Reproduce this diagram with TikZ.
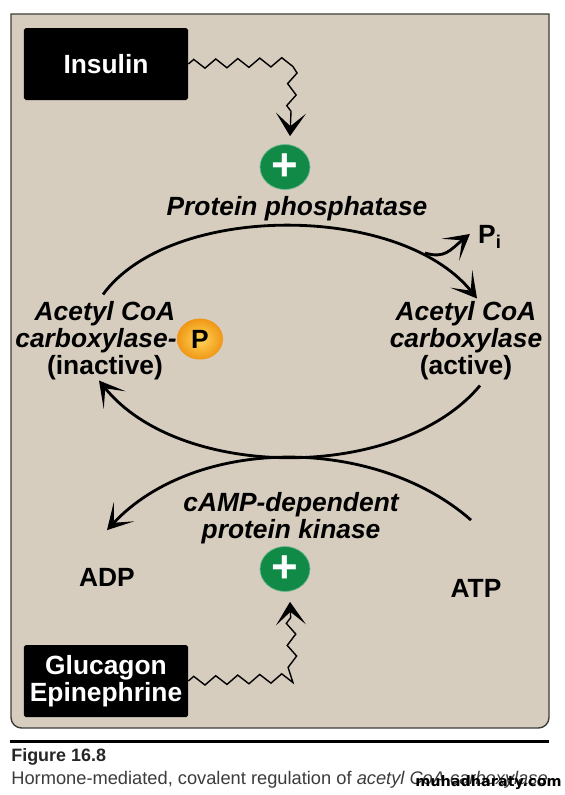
\documentclass[tikz,border=0pt]{standalone}
\usepackage{fontspec}
\setmainfont{Liberation Sans}
\newfontfamily\stampfont{DejaVu Sans}
\definecolor{panelTan}{RGB}{214,205,191}
\definecolor{frameGray}{RGB}{60,62,56}
\definecolor{plusGreen}{RGB}{16,138,70}
\definecolor{ballOrange}{RGB}{240,150,20}
\definecolor{ballYellow}{RGB}{255,215,90}
\definecolor{captionGray}{RGB}{60,60,60}
\usetikzlibrary{shapes.geometric,arrows.meta,decorations.pathmorphing}

\begin{document}
\begin{tikzpicture}[
    every node/.style={font=\fontsize{15}{15.3}\selectfont\bfseries, align=center, inner sep=0pt},
    hormone/.style={fill=black, text=white, rounded corners=1pt,
      minimum width=3.28cm, minimum height=1.44cm},
    enzyme/.style={font=\fontsize{15}{15.3}\selectfont\bfseries\itshape},
    plussign/.style={ellipse, fill=plusGreen, draw=plusGreen!60!white, text=white,
      minimum width=1.0cm, minimum height=0.9cm, font=\fontsize{26}{26}\selectfont\bfseries},
    cyclearc/.style={line width=1.6pt, -{Stealth[length=0.5cm, width=0.56cm, inset=0.3cm]}},
    signal/.style={line width=0.8pt, decorate,
      decoration={zigzag, segment length=0.44cm, amplitude=0.09cm, post=lineto, post length=0.3cm},
      -{Stealth[length=0.46cm, width=0.6cm, inset=0.26cm]}}
  ]
    \useasboundingbox (0,0) rectangle (11.28,-15.9);
    % Panel and rule
    \fill[white] (0,0) rectangle (11.28,-15.9);
    \draw[frameGray, fill=panelTan, line width=0.8pt] (0.22,-0.28) -- (10.98,-0.28) -- (10.98,-14.3)
      [rounded corners=6pt] -- (10.98,-14.56) -- (0.22,-14.56) [sharp corners] -- cycle;
    \draw[black, line width=1.7pt] (0.2,-14.82) -- (10.98,-14.82);
    % Hormones
    \node[hormone] (insulin) at (2.12,-1.28) {Insulin};
    \node[hormone] (glucagon) at (2.12,-13.62) {Glucagon\\Epinephrine};
    \node[plussign] (plusup) at (5.7,-3.34) {+};
    \node[plussign] (pluslow) at (5.7,-11.38) {+};
    % Enzymes
    \node[enzyme] (phosphatase) at (5.94,-4.18) {Protein phosphatase};
    \node[enzyme] (kinase) at (5.82,-10.36) {cAMP-dependent\\protein kinase};
    \node (inactive) at (2.1,-6.82) {\itshape Acetyl CoA\\\itshape carboxylase-\hbox to 0.36cm{}\\(inactive)};
    \node (active) at (9.32,-6.82) {\itshape Acetyl CoA\\\itshape carboxylase\\(active)};
    \node[ellipse, shade, inner color=ballYellow, outer color=ballOrange,
      minimum width=0.92cm, minimum height=0.82cm] (pball) at (4.0,-6.78) {P};
    % Small molecules
    \node (pi) at (9.8,-4.74) {P\textsubscript{i}};
    \node (adp) at (2.14,-11.54) {ADP};
    \node (atp) at (9.52,-11.76) {ATP};
    \coordinate (pistart) at (8.5,-5.06);
    % Arrows
    \draw[signal] (insulin.east) -- (5.86,-1.24) -- ([xshift=0.1cm, yshift=0.16cm]plusup.north);
    \draw[signal] (glucagon.east) -- (5.86,-13.56) -- ([xshift=0.1cm, yshift=-0.2cm]pluslow.south);
    \draw[cyclearc] ([xshift=-0.04cm, yshift=0.14cm]inactive.north) .. controls (3.4,-4.05) and (8,-4.05) .. ([xshift=0.22cm, yshift=0.06cm]active.north);
    \draw[cyclearc] ([xshift=0.28cm, yshift=-0.1cm]active.south) .. controls (8,-9.63) and (3.6,-9.63) .. ([xshift=-0.12cm]inactive.south);
    \draw[cyclearc] ([xshift=-0.1cm, yshift=1.17cm]atp.north) .. controls (7.5,-8.71) and (3.9,-8.71) .. ([yshift=0.75cm]adp.north);
    \draw[cyclearc] (pistart) .. controls (8.9,-5.18) and (9.0,-5.0) .. ([xshift=-0.16cm, yshift=0.06cm]pi.west);
    % Caption
    \node[anchor=west, font=\fontsize{10.2}{12}\selectfont\bfseries, text=black!85] (figlabel) at (0.22,-15.13) {Figure 16.8};
    \node[anchor=west, font=\fontsize{10.4}{12}\selectfont, text=captionGray] (caption) at (0.22,-15.6)
      {Hormone-mediated, covalent regulation of \itshape acetyl CoA carboxylase};
    \node[font=\fontsize{8.2}{12}\selectfont\bfseries\stampfont] (stamp) at (9.77,-15.66) {muhadharaty.com};
  \end{tikzpicture}
\end{document}
